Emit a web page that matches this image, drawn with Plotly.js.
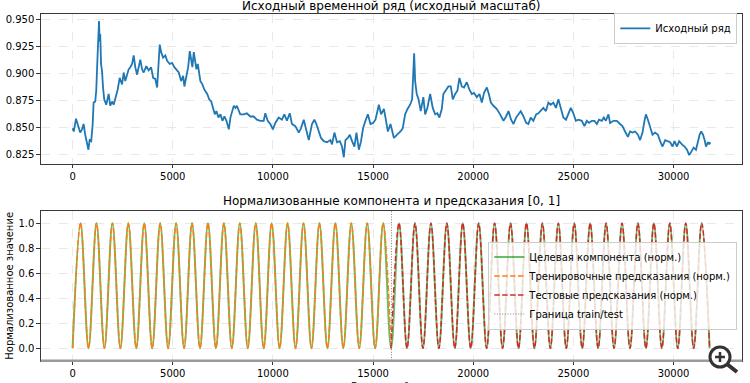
<!DOCTYPE html>
<html>
<head>
<meta charset="utf-8">
<script src="https://cdn.plot.ly/plotly-3.0.1.min.js"></script>
<style>html,body{margin:0;padding:0;background:#fff}#chart{width:750px;height:383px}</style>
</head>
<body>
<div id="chart"></div>
<script>
// ---- Original series ----
const rawX = [0,60,170,300,380,470,550,630,750,790,850,930,1000,1050,1130,1180,1250,1320,1350,1380,1420,1470,1520,1580,1680,1800,1880,1970,2050,2130,2250,2350,2470,2550,2630,2720,2800,2880,2970,3050,3130,3220,3320,3380,3470,3550,3680,3800,3920,4020,4130,4220,4300,4350,4420,4520,4630,4720,4850,4970,5080,5180,5300,5420,5520,5580,5680,5770,5850,5920,5980,6050,6120,6180,6250,6320,6380,6480,6580,6720,6820,6920,7020,7100,7180,7280,7380,7480,7580,7680,7800,7880,7970,8050,8130,8200,8370,8540,8700,8870,9040,9200,9370,9540,9620,9740,9870,10000,10120,10290,10450,10570,10700,10840,10950,11120,11290,11400,11540,11670,11790,11950,12070,12170,12290,12400,12540,12700,12870,12950,13070,13200,13340,13450,13540,13620,13740,13840,13950,14070,14170,14290,14400,14500,14620,14740,14870,15000,15120,15290,15400,15540,15620,15740,15870,16040,16200,16370,16480,16600,16720,16850,16950,17020,17050,17100,17180,17270,17380,17510,17600,17710,17850,17980,18100,18210,18310,18430,18510,18650,18760,18880,18980,19100,19210,19310,19430,19540,19680,19810,19930,20040,20180,20310,20430,20540,20680,20780,20880,21010,21180,21340,21510,21640,21760,21890,22010,22140,22260,22370,22510,22640,22750,22870,23000,23140,23250,23370,23500,23630,23750,23870,24000,24130,24250,24370,24500,24630,24750,24870,25000,25120,25250,25420,25550,25670,25780,25920,26050,26170,26280,26420,26520,26620,26750,26830,27000,27170,27330,27450,27580,27720,27830,27950,28080,28220,28330,28450,28550,28620,28720,28830,28950,29080,29220,29330,29450,29580,29720,29830,29950,30050,30170,30280,30420,30550,30670,30780,30880,31000,31120,31220,31300,31380,31470,31550,31620,31720,31780,31839];
const rawY = [0.849,0.846,0.858,0.851,0.845,0.848,0.853,0.843,0.831,0.829,0.838,0.837,0.852,0.873,0.874,0.884,0.918,0.949,0.930,0.937,0.909,0.902,0.887,0.876,0.871,0.881,0.870,0.874,0.871,0.877,0.885,0.896,0.890,0.901,0.893,0.899,0.904,0.906,0.909,0.917,0.906,0.899,0.909,0.913,0.904,0.901,0.907,0.903,0.906,0.896,0.895,0.887,0.912,0.927,0.920,0.915,0.917,0.912,0.909,0.910,0.906,0.904,0.901,0.893,0.898,0.888,0.898,0.906,0.921,0.912,0.906,0.920,0.909,0.904,0.909,0.898,0.893,0.890,0.885,0.881,0.876,0.874,0.868,0.862,0.865,0.859,0.862,0.856,0.860,0.856,0.848,0.859,0.865,0.870,0.868,0.870,0.862,0.862,0.863,0.860,0.860,0.857,0.856,0.856,0.863,0.856,0.853,0.848,0.854,0.859,0.857,0.862,0.856,0.863,0.853,0.851,0.845,0.849,0.857,0.846,0.838,0.853,0.857,0.853,0.846,0.840,0.837,0.836,0.838,0.834,0.845,0.836,0.837,0.832,0.822,0.838,0.840,0.843,0.837,0.832,0.845,0.829,0.837,0.849,0.856,0.862,0.853,0.854,0.857,0.871,0.862,0.867,0.859,0.846,0.853,0.840,0.843,0.846,0.849,0.862,0.867,0.871,0.876,0.918,0.919,0.893,0.881,0.876,0.865,0.878,0.862,0.868,0.881,0.868,0.862,0.863,0.859,0.867,0.881,0.885,0.888,0.888,0.876,0.881,0.884,0.896,0.888,0.887,0.892,0.885,0.881,0.882,0.878,0.881,0.873,0.882,0.887,0.881,0.873,0.870,0.867,0.862,0.856,0.860,0.865,0.857,0.853,0.859,0.862,0.865,0.860,0.854,0.853,0.859,0.856,0.862,0.863,0.865,0.868,0.865,0.873,0.871,0.873,0.868,0.876,0.868,0.859,0.857,0.862,0.868,0.863,0.856,0.857,0.856,0.851,0.856,0.854,0.856,0.856,0.853,0.857,0.856,0.859,0.856,0.862,0.854,0.856,0.856,0.853,0.851,0.846,0.841,0.846,0.845,0.846,0.843,0.838,0.845,0.856,0.862,0.857,0.851,0.843,0.845,0.843,0.837,0.832,0.838,0.837,0.836,0.832,0.837,0.832,0.837,0.834,0.832,0.829,0.824,0.827,0.831,0.829,0.837,0.843,0.846,0.843,0.838,0.832,0.836,0.834,0.836];

// ---- Normalised component: extrema (troughs / peaks) ----
const compX = [0,398,795,1193,1590,1988,2385,2783,3180,3578,3975,4373,4770,5168,5565,5963,6360,6758,7155,7553,7950,8348,8745,9143,9540,9938,10335,10733,11130,11528,11925,12323,12720,13118,13515,13913,14310,14708,15105,15503,15900,16298,16695,17093,17490,17888,18285,18683,19080,19478,19875,20273,20670,21068,21465,21863,22260,22658,23055,23453,23850,24248,24645,25043,25440,25838,26235,26633,27030,27428,27825,28223,28620,29018,29415,29813,30210,30608,31005,31403,31800];
const compY = [0,1,0,1,0,1,0,1,0,1,0,1,0,1,0,1,0,1,0,1,0,1,0,1,0,1,0,1,0,1,0,1,0,1,0,1,0,1,0,1,0,1,0,1,0,1,0,1,0,1,0,1,0,1,0,1,0,1,0,1,0,1,0,1,0,1,0,1,0,1,0,1,0,1,0,1,0,1,0,1,0];
const splitX = 15900;      // last point of the training predictions
const boundaryX = 15920;   // train/test border

const trainX = compX.filter(v => v <= splitX), trainY = compY.slice(0, trainX.length);
const testX = compX.filter(v => v >= splitX), testY = compY.slice(compX.length - testX.length);

const W = 750, H = 383;
const px = v => v / W, py = v => 1 - v / H;
const F = 'DejaVu Sans, Liberation Sans, sans-serif';

const xCommon = {
  range: [-1592, 33432], dtick: 5000, tick0: 0, tickformat: 'd',
  ticks: 'outside', ticklen: 3.5, tickwidth: 0.8, tickcolor: '#000',
  showline: true, mirror: true, linecolor: '#222', linewidth: 0.9,
  showgrid: true, gridcolor: '#e3e3e3', griddash: 'dash', gridwidth: 0.8,
  zeroline: false, tickfont: {family: F, size: 10, color: '#000'},
  domain: [px(40.7), px(742.3)]
};
const yCommon = {
  ticks: 'outside', ticklen: 3.5, tickwidth: 0.8, tickcolor: '#000',
  showline: true, mirror: true, linecolor: '#222', linewidth: 0.9,
  showgrid: true, gridcolor: '#e3e3e3', griddash: 'dash', gridwidth: 0.8,
  zeroline: false, tickfont: {family: F, size: 10, color: '#000'}
};

const traces = [
  {x: rawX, y: rawY, type: 'scatter', mode: 'lines', name: 'Исходный ряд',
   line: {color: '#1f77b4', width: 1.8}, xaxis: 'x', yaxis: 'y', legend: 'legend'},
  {x: compX, y: compY, type: 'scatter', mode: 'lines', name: 'Целевая компонента (норм.)',
   line: {color: 'rgba(44,160,44,0.7)', width: 2, shape: 'spline', smoothing: 1},
   xaxis: 'x2', yaxis: 'y2', legend: 'legend2'},
  {x: trainX, y: trainY, type: 'scatter', mode: 'lines', name: 'Тренировочные предсказания (норм.)',
   line: {color: '#ff7f0e', width: 1.5, dash: '5.5px,2.4px', shape: 'spline', smoothing: 1},
   xaxis: 'x2', yaxis: 'y2', legend: 'legend2'},
  {x: testX, y: testY, type: 'scatter', mode: 'lines', name: 'Тестовые предсказания (норм.)',
   line: {color: '#d62728', width: 1.5, dash: '5.5px,2.4px', shape: 'spline', smoothing: 1},
   xaxis: 'x2', yaxis: 'y2', legend: 'legend2'},
  {x: [boundaryX, boundaryX], y: [-0.1, 1.1], type: 'scatter', mode: 'lines', name: 'Граница train/test',
   line: {color: '#808080', width: 1, dash: '1px,1.65px'},
   xaxis: 'x2', yaxis: 'y2', legend: 'legend2'}
];

const layout = {
  width: W, height: H, margin: {l: 0, r: 0, t: 0, b: 0},
  paper_bgcolor: '#fff', plot_bgcolor: '#fff', showlegend: true,
  font: {family: F, size: 10, color: '#000'},
  xaxis: Object.assign({}, xCommon, {anchor: 'y'}),
  yaxis: Object.assign({}, yCommon, {domain: [py(164), py(14.3)], range: [0.8157, 0.9553],
         dtick: 0.025, tick0: 0.825, tickformat: '.3f', anchor: 'x'}),
  xaxis2: Object.assign({}, xCommon, {anchor: 'y2'}),
  yaxis2: Object.assign({}, yCommon, {domain: [py(360.7), py(210.7)], range: [-0.1, 1.1],
         dtick: 0.2, tick0: 0, tickformat: '.1f', anchor: 'x2'}),
  legend: {x: px(737.3), y: py(28.3), xanchor: 'right', yanchor: 'middle',
           bgcolor: 'rgba(255,255,255,0.8)', bordercolor: '#cccccc', borderwidth: 1,
           font: {family: F, size: 10, color: '#000'}},
  legend2: {x: px(737.3), y: py(285.5), xanchor: 'right', yanchor: 'middle',
           bgcolor: 'rgba(255,255,255,0.8)', bordercolor: '#cccccc', borderwidth: 1,
           font: {family: F, size: 10, color: '#000'}, tracegroupgap: 0},
  annotations: [
    {text: 'Исходный временной ряд (исходный масштаб)', xref: 'paper', yref: 'paper',
     x: px(391.5), y: py(5.8), xanchor: 'center', yanchor: 'middle', showarrow: false,
     font: {family: F, size: 12, color: '#000'}},
    {text: 'Нормализованные компонента и предсказания [0, 1]', xref: 'paper', yref: 'paper',
     x: px(391.5), y: py(200.8), xanchor: 'center', yanchor: 'middle', showarrow: false,
     font: {family: F, size: 12, color: '#000'}},
    {text: 'Нормализованное значение', xref: 'paper', yref: 'paper', textangle: -90,
     x: px(10), y: py(285.7), xanchor: 'center', yanchor: 'middle', showarrow: false,
     font: {family: F, size: 10, color: '#000'}},
    {text: 'Временной шаг', xref: 'paper', yref: 'paper',
     x: px(391.5), y: py(386), xanchor: 'center', yanchor: 'middle', showarrow: false,
     font: {family: F, size: 10, color: '#000'}}
  ],
  shapes: [
    {type: 'line', xref: 'paper', yref: 'paper', x0: px(40.7), x1: px(742.3), y0: py(360.7), y1: py(360.7),
     line: {color: '#9a9a9a', width: 2.5}, layer: 'above'},
    {type: 'circle', xref: 'paper', yref: 'paper', x0: px(710), x1: px(730), y0: py(367), y1: py(347),
     line: {color: '#333', width: 3}, fillcolor: 'rgba(255,255,255,0.9)', layer: 'above'},
    {type: 'line', xref: 'paper', yref: 'paper', x0: px(727.5), x1: px(737), y0: py(364.5), y1: py(372),
     line: {color: '#333', width: 4}, layer: 'above'},
    {type: 'line', xref: 'paper', yref: 'paper', x0: px(715), x1: px(725), y0: py(357), y1: py(357),
     line: {color: '#333', width: 2.5}, layer: 'above'},
    {type: 'line', xref: 'paper', yref: 'paper', x0: px(720), x1: px(720), y0: py(352), y1: py(362),
     line: {color: '#333', width: 2.5}, layer: 'above'}
  ]
};

Plotly.newPlot('chart', traces, layout, {displayModeBar: false, staticPlot: true});
</script>
</body>
</html>
